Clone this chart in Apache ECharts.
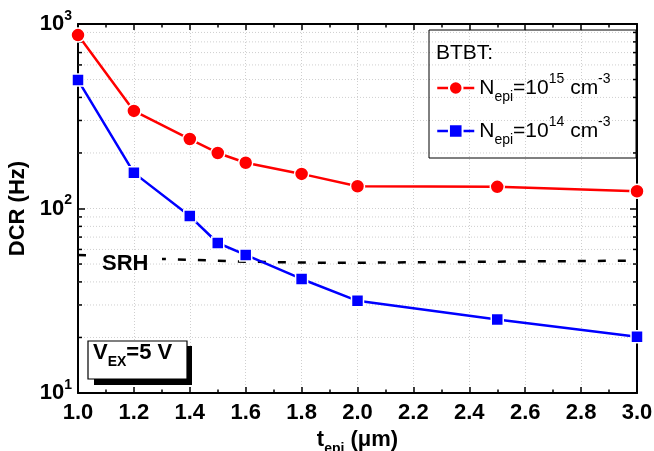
<!DOCTYPE html>
<html>
<head>
<meta charset="utf-8">
<script src="https://cdn.jsdelivr.net/npm/echarts@6/dist/echarts.min.js"></script>
<style>
  html, body { margin: 0; padding: 0; background: #fff; }
  #main { width: 654px; height: 451px; }
</style>
</head>
<body>
<div id="main"></div>
<script>
var FONT = 'Liberation Sans, Arial, sans-serif';

// data
var tEpi = [1.0, 1.2, 1.4, 1.5, 1.6, 1.8, 2.0, 2.5, 3.0];
var dcr15 = [871, 338, 238, 200, 177, 154, 132, 131, 124];
var dcr14 = [497, 156, 91, 65, 56, 41.5, 31.6, 25, 20.2];
var srhX = [1.0, 1.3, 1.6, 1.9, 2.5, 3.0];
var srhY = [56, 53.3, 51.5, 50.7, 51.5, 52.2];
var minorY = [20, 30, 40, 50, 60, 70, 80, 90, 200, 300, 400, 500, 600, 700, 800, 900];

var X_MIN = 1.0, X_MAX = 3.0;

function pairs(xs, ys) {
	var out = [];
	for (var i = 0; i < xs.length; i++) {
		out.push([xs[i], ys[i]]);
	}
	return out;
}

var legendText = {
	'n15': '{a|N}{sub|epi}{a|=10}{sup|15}{a| cm}{sup|-3}',
	'n14': '{a|N}{sub|epi}{a|=10}{sup|14}{a| cm}{sup|-3}'
};

var myChart = echarts.init(document.getElementById('main'));

var option = {
	backgroundColor: '#fff',
	animation: false,
	grid: { left: 78, right: 17, top: 24, bottom: 58, outerBoundsMode: 'none' },
	xAxis: [{
		type: 'value',
		min: X_MIN,
		max: X_MAX,
		interval: 0.2,
		name: '{t|t}{sub|epi}{t| (μm)}',
		nameLocation: 'middle',
		nameGap: 23,
		nameTextStyle: {
			rich: {
				t: { fontFamily: FONT, fontSize: 22, fontWeight: 'bold', color: '#000', lineHeight: 32 },
				sub: { fontFamily: FONT, fontSize: 14, fontWeight: 'bold', color: '#000', lineHeight: 8, verticalAlign: 'bottom' }
			}
		},
		axisLine: { lineStyle: { color: '#000', width: 2 } },
		axisTick: { inside: true, length: 6, lineStyle: { color: '#000', width: 1.5 } },
		minorTick: { show: true, splitNumber: 2, length: 3.5, lineStyle: { color: '#000', width: 1.5 } },
		axisLabel: {
			margin: 9,
			fontFamily: FONT, fontSize: 22, fontWeight: 'bold', color: '#000',
			formatter: function (v) { return v.toFixed(1); }
		},
		splitLine: { show: true, lineStyle: { color: '#cfcfcf', type: [1, 2], width: 1 } }
	}, {
		type: 'value',
		position: 'top',
		min: X_MIN,
		max: X_MAX,
		interval: 0.2,
		axisLine: { lineStyle: { color: '#000', width: 2 } },
		axisTick: { inside: true, length: 6, lineStyle: { color: '#000', width: 1.5 } },
		minorTick: { show: true, splitNumber: 2, length: 3.5, lineStyle: { color: '#000', width: 1.5 } },
		axisLabel: { show: false },
		splitLine: { show: false }
	}],
	yAxis: [{
		type: 'log',
		min: 10,
		max: 1000,
		logBase: 10,
		name: 'DCR (Hz)',
		nameLocation: 'middle',
		nameGap: 33,
		nameRotate: 90,
		nameTextStyle: { fontFamily: FONT, fontSize: 22, fontWeight: 'bold', color: '#000' },
		axisLine: { lineStyle: { color: '#000', width: 2 } },
		axisTick: { inside: true, length: 7, lineStyle: { color: '#000', width: 1.5 } },
		axisLabel: {
			margin: 6,
			formatter: function (v) {
				return '{b|10}{s|' + Math.round(Math.log10(v)) + '}';
			},
			rich: {
				b: { fontFamily: FONT, fontSize: 22, fontWeight: 'bold', color: '#000', lineHeight: 30 },
				s: { fontFamily: FONT, fontSize: 14, fontWeight: 'bold', color: '#000', lineHeight: 15, verticalAlign: 'top' }
			}
		},
		splitLine: { show: true, lineStyle: { color: '#cfcfcf', type: [1, 2], width: 1 } }
	}, {
		type: 'log',
		min: 10,
		max: 1000,
		logBase: 10,
		position: 'right',
		axisLine: { show: true, lineStyle: { color: '#000', width: 2 } },
		axisTick: { show: true, inside: true, length: 7, lineStyle: { color: '#000', width: 1.5 } },
		axisLabel: { show: false },
		splitLine: { show: false }
	}],
	legend: {
		data: ['n15', 'n14'],
		orient: 'vertical',
		left: 436,
		top: 72,
		padding: 0,
		itemWidth: 37,
		itemHeight: 17,
		itemGap: 11,
		lineStyle: { width: 2.5 },
		formatter: function (name) { return legendText[name]; },
		textStyle: {
			rich: {
				a: { fontFamily: FONT, fontSize: 21, color: '#000', lineHeight: 32 },
				sub: { fontFamily: FONT, fontSize: 14, color: '#000', lineHeight: 8, verticalAlign: 'bottom' },
				sup: { fontFamily: FONT, fontSize: 14, color: '#000', lineHeight: 17, verticalAlign: 'top' }
			}
		}
	},
	graphic: [
		{ type: 'rect', z: 100, shape: { x: 429, y: 30, width: 207, height: 128 },
		  style: { fill: 'none', stroke: '#000', lineWidth: 1 } },
		{ type: 'text', z: 101, left: 436, top: 43,
		  style: { text: 'BTBT:', fontFamily: FONT, fontSize: 21, fill: '#000' } },
		{ type: 'rect', z: 100, shape: { x: 86, y: 251, width: 76, height: 10 },
		  style: { fill: '#fff' } },
		{ type: 'text', z: 101, left: 102, top: 253,
		  style: { text: 'SRH', fontFamily: FONT, fontSize: 22, fontWeight: 'bold', fill: '#000' } },
		{ type: 'rect', z: 100, shape: { x: 94, y: 346, width: 98, height: 39 },
		  style: { fill: '#000' } },
		{ type: 'rect', z: 101, shape: { x: 88, y: 341, width: 99, height: 38 },
		  style: { fill: '#fff', stroke: '#000', lineWidth: 1.2 } },
		{ type: 'text', z: 102, left: 93, top: 342,
		  style: {
			text: '{v|V}{sub|EX}{v|=5 V}',
			rich: {
				v: { fontFamily: FONT, fontSize: 22, fontWeight: 'bold', fill: '#000', lineHeight: 32 },
				sub: { fontFamily: FONT, fontSize: 14, fontWeight: 'bold', fill: '#000', lineHeight: 8, verticalAlign: 'bottom' }
			}
		  } }
	],
	series: [{
		// minor gridlines and ticks of the log axis (2..9 of each decade)
		type: 'custom',
		name: 'minor',
		z: 1,
		silent: true,
		data: minorY.map(function (v) { return [X_MIN, v]; }),
		renderItem: function (params, api) {
			var v = api.value(1);
			var p1 = api.coord([X_MIN, v]);
			var p2 = api.coord([X_MAX, v]);
			return {
				type: 'group',
				children: [
					{ type: 'line', shape: { x1: p1[0], y1: p1[1], x2: p2[0], y2: p2[1] },
					  style: { stroke: '#cfcfcf', lineWidth: 1, lineDash: [1, 2] } },
					{ type: 'line', shape: { x1: p1[0], y1: p1[1], x2: p1[0] + 4, y2: p1[1] },
					  style: { stroke: '#000', lineWidth: 1.5 } },
					{ type: 'line', shape: { x1: p2[0] - 4, y1: p2[1], x2: p2[0], y2: p2[1] },
					  style: { stroke: '#000', lineWidth: 1.5 } }
				]
			};
		}
	}, {
		name: 'srh',
		type: 'line',
		z: 3,
		symbol: 'none',
		data: pairs(srhX, srhY),
		lineStyle: { color: '#000', width: 2.5, type: [8, 12] }
	}, {
		name: 'n15',
		type: 'line',
		z: 4,
		symbol: 'circle',
		symbolSize: 14,
		data: pairs(tEpi, dcr15),
		itemStyle: { color: '#ff0000', borderColor: '#fff', borderWidth: 1.5 },
		lineStyle: { color: '#ff0000', width: 2.5 }
	}, {
		name: 'n14',
		type: 'line',
		z: 4,
		symbol: 'rect',
		symbolSize: 12,
		data: pairs(tEpi, dcr14),
		itemStyle: { color: '#0000ff', borderColor: '#fff', borderWidth: 1.5 },
		lineStyle: { color: '#0000ff', width: 2.5 }
	}]
};

myChart.setOption(option);
</script>
</body>
</html>
